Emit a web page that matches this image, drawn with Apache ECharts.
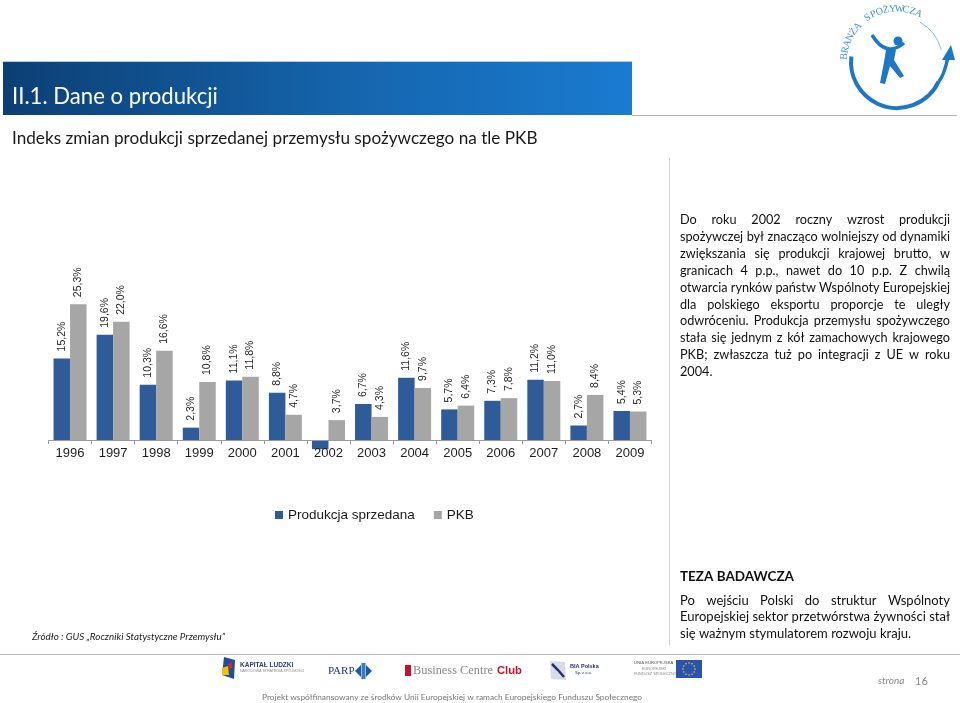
<!DOCTYPE html>
<html><head><meta charset="utf-8">
<script src="https://cdn.jsdelivr.net/npm/echarts@6/dist/echarts.min.js"></script>
<style>html,body{margin:0;padding:0;background:#fff}#c{width:960px;height:703px}</style>
</head><body><div id="c"></div>
<script>
// ---- data ----
const years = ['1996','1997','1998','1999','2000','2001','2002','2003','2004','2005','2006','2007','2008','2009'];
const produkcja = [15.2,19.6,10.3,2.3,11.1,8.8,-1.7,6.7,11.6,5.7,7.3,11.2,2.7,5.4];
const pkb = [25.3,22.0,16.6,10.8,11.8,4.7,3.7,4.3,9.7,6.4,7.8,11.0,8.4,5.3];
const seriesNames = ['Produkcja sprzedana','PKB'];
const headerTitle = 'II.1. Dane o produkcji';
const chartTitle = 'Indeks zmian produkcji sprzedanej przemysłu spożywczego na tle PKB';
const paragraph = [
 'Do roku 2002 roczny wzrost produkcji',
 'spożywczej był znacząco wolniejszy od dynamiki',
 'zwiększania się produkcji krajowej brutto, w',
 'granicach 4 p.p., nawet do 10 p.p. Z chwilą',
 'otwarcia rynków państw Wspólnoty Europejskiej',
 'dla polskiego eksportu proporcje te uległy',
 'odwróceniu. Produkcja przemysłu spożywczego',
 'stała się jednym z kół zamachowych krajowego',
 'PKB; zwłaszcza tuż po integracji z UE w roku',
 '2004.'
];
const tezaTitle = 'TEZA BADAWCZA';
const teza = [
 'Po wejściu Polski do struktur Wspólnoty',
 'Europejskiej sektor przetwórstwa żywności stał',
 'się ważnym stymulatorem rozwoju kraju.'
];
const sourceText = 'Źródło : GUS „Roczniki Statystyczne Przemysłu”';
const footerText = 'Projekt współfinansowany ze środków Unii Europejskiej w ramach Europejskiego Funduszu Społecznego';
const logoText = 'BRANŻA SPOŻYWCZA';

// ---- helpers ----
const cvs = document.createElement('canvas');
const ctx = cvs.getContext('2d');
function measure(t, font){ ctx.font = font; return ctx.measureText(t).width; }
function fitFont(t, style, fs, family, W){ const w = measure(t, style+' '+fs+'px '+family); return style+' '+(fs*W/w).toFixed(2)+'px '+family; }
function txt(x, y, text, font, fill, align, valign, extra){
  const el = {type:'text', x:x, y:y, silent:true,
    style:{text:text, font:font, fill:fill,
      textAlign:align||'left', align:align||'left',
      textVerticalAlign:valign||'middle', verticalAlign:valign||'middle'}};
  if (extra) Object.assign(el, extra);
  return el;
}
function justify(lines, x0, y0, lh, W, fs, family, color, lastLeft){
  let mx = 0;
  lines.forEach((l,i)=>{ if(!(lastLeft && i===lines.length-1)) mx = Math.max(mx, measure(l, fs+'px '+family)); });
  if (mx > W) fs = fs * W / mx;
  const font = fs+'px '+family;
  const out = [];
  lines.forEach((l,i)=>{
    const y = y0 + i*lh;
    const words = l.split(' ');
    if ((lastLeft && i===lines.length-1) || words.length===1){
      out.push(txt(x0, y, l, font, color)); return;
    }
    const ws = words.map(w=>measure(w, font));
    const sum = ws.reduce((a,b)=>a+b,0);
    const gap = (W - sum)/(words.length-1);
    let x = x0;
    words.forEach((w,k)=>{ out.push(txt(x, y, w, font, color)); x += ws[k] + gap; });
  });
  return out;
}

const g = [];
// header band
g.push({type:'rect', shape:{x:3,y:62,width:629,height:53}, silent:true,
  style:{fill:new echarts.graphic.LinearGradient(0,0,1,0,[{offset:0,color:'#0c3f74'},{offset:0.55,color:'#1565ad'},{offset:1,color:'#1a7bd0'}])}});
g.push({type:'line', shape:{x1:3,y1:61.5,x2:632,y2:61.5}, silent:true, style:{stroke:'#a9cdee',lineWidth:1}});
g.push({type:'line', shape:{x1:632,y1:115.5,x2:957,y2:115.5}, silent:true, style:{stroke:'#b5b5b5',lineWidth:1}});
g.push(txt(12, 97, headerTitle, fitFont(headerTitle,'', 21, 'Lato', 206), '#ffffff'));
g.push(txt(12, 138, chartTitle, fitFont(chartTitle,'', 16.5, 'Lato', 526), '#1a1a1a'));
// divider
g.push({type:'line', shape:{x1:669.5,y1:158,x2:669.5,y2:645}, silent:true, style:{stroke:'#d0d0d0',lineWidth:1}});
// right paragraph
justify(paragraph, 680, 220, 16.9, 270, 13.2, 'Lato', '#111', true).forEach(e=>g.push(e));
g.push(txt(680, 577, tezaTitle, 'bold 13.5px Lato', '#111'));
justify(teza, 680, 601, 16.2, 270, 13.2, 'Lato', '#111', true).forEach(e=>g.push(e));
// source
g.push(txt(32, 637, sourceText, fitFont(sourceText, 'italic', 12, 'Lato', 193), '#222'));
// footer line
g.push({type:'line', shape:{x1:0,y1:654.5,x2:960,y2:654.5}, silent:true, style:{stroke:'#bdbdbd',lineWidth:1.2}});
g.push(txt(262, 697, footerText, fitFont(footerText, '', 9, 'Lato', 381), '#777'));
g.push(txt(878, 681, 'strona', 'italic 10px Lato', '#888'));
g.push(txt(915, 681, '16', '11px Lato', '#888'));

// footer logos (approximate)
g.push({type:'polygon', shape:{points:[[224,657],[235,660],[234,679],[222,675]]}, silent:true, style:{fill:'#1f4e9c'}});
g.push({type:'polygon', shape:{points:[[222,668],[228,666],[229,675],[222,675]]}, silent:true, style:{fill:'#f2c300'}});
g.push({type:'polygon', shape:{points:[[228,664],[232,662],[232,668],[229,669]]}, silent:true, style:{fill:'#d7262b'}});
g.push(txt(240, 665, 'KAPITAŁ LUDZKI', 'bold 6.5px Liberation Sans', '#2a3f6e'));
g.push(txt(240, 671, 'NARODOWA STRATEGIA SPÓJNOŚCI', '3.6px Liberation Sans', '#888'));
g.push(txt(328, 671, 'PARP', '11px Liberation Serif', '#1c3b7a'));
g.push({type:'polygon', shape:{points:[[355,671],[361,665],[361,677]]}, silent:true, style:{fill:'#1c5aa6'}});
g.push({type:'polygon', shape:{points:[[372,671],[366,665],[366,677]]}, silent:true, style:{fill:'#1c5aa6'}});
g.push({type:'rect', shape:{x:361.5,y:663,width:4,height:16}, silent:true, style:{fill:'#3b7ac4'}});
g.push({type:'rect', shape:{x:405,y:665,width:6,height:11}, silent:true, style:{fill:'#c8102e'}});
g.push(txt(413, 671, 'Business Centre', fitFont('Business Centre', '', 14, 'Liberation Serif', 80), '#8a8a8a'));
g.push(txt(497, 671, 'Club', fitFont('Club', 'bold', 13, 'Liberation Sans', 25), '#c8102e'));
g.push({type:'polygon', shape:{points:[[550,661],[565,662],[566,680],[551,679]]}, silent:true, style:{fill:'#d9dce6'}});
g.push({type:'polyline', shape:{points:[[552,664],[558,670],[564,677]]}, silent:true, style:{stroke:'#24306e',lineWidth:2.5,fill:'none'}});
g.push(txt(570, 666, 'BIA Polska', 'bold 5.5px Liberation Sans', '#24306e'));
g.push(txt(575, 673, 'Sp. z o.o.', '4px Liberation Sans', '#24306e'));
g.push(txt(634, 663, 'UNIA EUROPEJSKA', '4.2px Liberation Sans', '#555'));
g.push(txt(642, 669, 'EUROPEJSKI', '3.8px Liberation Sans', '#888'));
g.push(txt(634, 674, 'FUNDUSZ SPOŁECZNY', '3.8px Liberation Sans', '#888'));
g.push({type:'rect', shape:{x:676,y:660,width:26,height:18}, silent:true, style:{fill:'#2a52b0'}});
for (let k=0;k<12;k++){
  const a = k*Math.PI/6;
  g.push({type:'circle', shape:{cx:689+6*Math.cos(a), cy:669+6*Math.sin(a), r:0.8}, silent:true, style:{fill:'#f5d000'}});
}

// top-right logo
(function(){
  const cx = 897, cy = 62, r = 46, col = '#1c78c6';
  g.push({type:'arc', shape:{cx:cx,cy:cy,r:r,startAngle:25*Math.PI/180,endAngle:187*Math.PI/180,clockwise:true}, silent:true,
    style:{stroke:col,lineWidth:4,fill:'none'}});
  g.push({type:'arc', shape:{cx:cx,cy:cy,r:r,startAngle:300*Math.PI/180,endAngle:345*Math.PI/180,clockwise:true}, silent:true,
    style:{stroke:'#8fbbe2',lineWidth:1,fill:'none'}});
  const sx = cx + r*Math.cos(25*Math.PI/180), sy = cy + r*Math.sin(25*Math.PI/180);
  g.push({type:'bezierCurve', shape:{x1:sx,y1:sy,x2:948,y2:57,cpx1:944,cpy1:76}, silent:true, style:{stroke:col,lineWidth:3.5,fill:'none'}});
  g.push({type:'polygon', shape:{points:[[942,60],[955,60],[951,45]]}, silent:true, style:{fill:col}});
  const R = 53, a0 = 186, a1 = 294, n = logoText.length;
  for (let i=0;i<n;i++){
    const a = (a0 + (a1-a0)*i/(n-1)) * Math.PI/180;
    g.push(txt(cx + R*Math.cos(a), cy + R*Math.sin(a), logoText[i], '10px Liberation Serif', '#3d8fd4', 'center', 'middle',
      {rotation: -(a + Math.PI/2)}));
  }
  // figure
  g.push({type:'circle', shape:{cx:898,cy:41,r:4.5}, silent:true, style:{fill:col}});
  g.push({type:'bezierCurve', shape:{x1:872,y1:35,x2:904,y2:43,cpx1:886,cpy1:58}, silent:true, style:{stroke:col,lineWidth:3.5,fill:'none'}});
  g.push({type:'polygon', shape:{points:[[886,50],[896,50],[894,60],[904,76],[900,78],[890,66],[885,84],[880,83],[884,62]]}, silent:true, style:{fill:col}});
})();

const chart = echarts.init(document.getElementById('c'), null, {renderer:'canvas'});
const labelFmt = p => p.value < 0 ? '' : p.value.toFixed(1).replace('.', ',') + '%';
const barLabel = {show:true, position:'top', rotate:90, align:'left', verticalAlign:'middle', distance:7,
  fontFamily:'Liberation Sans', fontSize:10.5, color:'#262626', formatter:labelFmt};
chart.setOption({
  animation:false,
  backgroundColor:'#ffffff',
  grid:{left:48.5, right:308.5, top:278.9, bottom:263, containLabel:false},
  legend:{data:seriesNames, left:270, top:503, itemWidth:8, itemHeight:8, itemGap:19, icon:'rect',
    textStyle:{fontFamily:'Liberation Sans', fontSize:13.5, color:'#1a1a1a'}},
  xAxis:{type:'category', data:years, z:5,
    axisLine:{onZero:false, lineStyle:{color:'#9a9a9a', width:1}},
    axisTick:{show:true, length:4, lineStyle:{color:'#9a9a9a'}},
    axisLabel:{margin:7, fontFamily:'Liberation Sans', fontSize:13, color:'#1e1e1e'}},
  yAxis:{type:'value', min:0, max:30, show:false, splitLine:{show:false}},
  series:[
    {name:seriesNames[0], type:'bar', data:produkcja, barWidth:16.5, barGap:'0%', clip:false, z:2, itemStyle:{color:'#2f5c99'}, label:barLabel},
    {name:seriesNames[1], type:'bar', data:pkb, barWidth:16.5, barGap:'0%', clip:false, z:2, itemStyle:{color:'#a6a6a6'}, label:barLabel}
  ],
  graphic:g
});
</script>
</body></html>
